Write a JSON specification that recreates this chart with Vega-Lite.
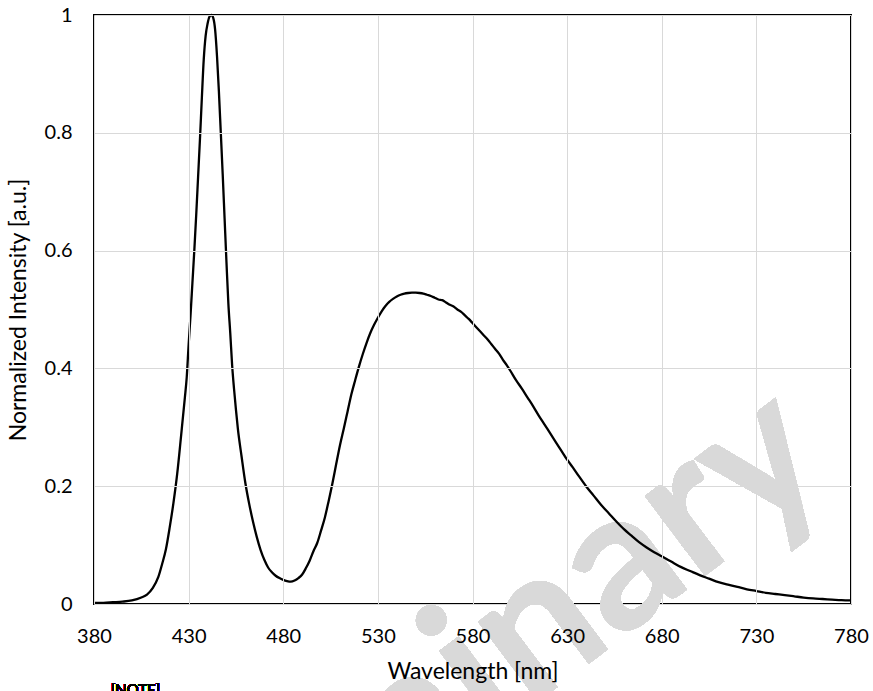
{
  "$schema": "https://vega.github.io/schema/vega-lite/v6.json",
  "width": 757,
  "height": 589,
  "autosize": {"type": "none"},
  "padding": {"left": 94, "top": 15, "right": 22, "bottom": 87},
  "background": "white",
  "config": {
    "view": {"stroke": "black", "strokeWidth": 2},
    "font": "Lato",
    "axis": {
      "grid": true,
      "gridColor": "#d9d9d9",
      "gridWidth": 1,
      "domain": false,
      "ticks": false,
      "tickSize": 0,
      "labelColor": "#000000",
      "titleColor": "#000000",
      "labelFont": "Lato",
      "titleFont": "Lato",
      "labelFontSize": 20,
      "titleFontSize": 23,
      "titleFontWeight": "normal",
      "labelFlush": false,
      "labelOverlap": false
    }
  },
  "data": {
    "values": [
      {"wavelength": 380, "intensity": 0.002},
      {"wavelength": 385, "intensity": 0.002},
      {"wavelength": 390, "intensity": 0.003},
      {"wavelength": 395, "intensity": 0.004},
      {"wavelength": 400, "intensity": 0.006},
      {"wavelength": 405, "intensity": 0.011},
      {"wavelength": 408, "intensity": 0.016},
      {"wavelength": 411, "intensity": 0.027},
      {"wavelength": 414, "intensity": 0.046},
      {"wavelength": 416, "intensity": 0.068},
      {"wavelength": 418, "intensity": 0.093},
      {"wavelength": 420, "intensity": 0.13},
      {"wavelength": 422, "intensity": 0.172},
      {"wavelength": 424, "intensity": 0.222},
      {"wavelength": 426, "intensity": 0.285},
      {"wavelength": 428, "intensity": 0.35},
      {"wavelength": 429, "intensity": 0.385},
      {"wavelength": 430, "intensity": 0.44},
      {"wavelength": 431, "intensity": 0.49},
      {"wavelength": 432, "intensity": 0.545},
      {"wavelength": 433, "intensity": 0.6},
      {"wavelength": 434, "intensity": 0.66},
      {"wavelength": 435, "intensity": 0.725},
      {"wavelength": 436, "intensity": 0.79},
      {"wavelength": 437, "intensity": 0.86},
      {"wavelength": 438, "intensity": 0.925},
      {"wavelength": 439, "intensity": 0.965},
      {"wavelength": 440, "intensity": 0.985},
      {"wavelength": 441, "intensity": 0.997},
      {"wavelength": 442, "intensity": 1.0},
      {"wavelength": 443, "intensity": 0.995},
      {"wavelength": 444, "intensity": 0.975},
      {"wavelength": 445, "intensity": 0.93},
      {"wavelength": 446, "intensity": 0.87},
      {"wavelength": 447, "intensity": 0.8},
      {"wavelength": 448, "intensity": 0.73},
      {"wavelength": 449, "intensity": 0.655},
      {"wavelength": 450, "intensity": 0.58},
      {"wavelength": 451, "intensity": 0.51},
      {"wavelength": 452, "intensity": 0.46},
      {"wavelength": 453, "intensity": 0.405},
      {"wavelength": 454, "intensity": 0.365},
      {"wavelength": 455, "intensity": 0.33},
      {"wavelength": 456, "intensity": 0.298},
      {"wavelength": 458, "intensity": 0.25},
      {"wavelength": 460, "intensity": 0.205},
      {"wavelength": 462, "intensity": 0.17},
      {"wavelength": 464, "intensity": 0.14},
      {"wavelength": 466, "intensity": 0.114},
      {"wavelength": 468, "intensity": 0.092},
      {"wavelength": 470, "intensity": 0.075},
      {"wavelength": 472, "intensity": 0.062},
      {"wavelength": 474, "intensity": 0.054},
      {"wavelength": 476, "intensity": 0.048},
      {"wavelength": 478, "intensity": 0.044},
      {"wavelength": 480, "intensity": 0.041},
      {"wavelength": 482, "intensity": 0.039},
      {"wavelength": 484, "intensity": 0.038},
      {"wavelength": 486, "intensity": 0.04},
      {"wavelength": 488, "intensity": 0.044},
      {"wavelength": 490, "intensity": 0.05},
      {"wavelength": 492, "intensity": 0.061},
      {"wavelength": 494, "intensity": 0.074},
      {"wavelength": 496, "intensity": 0.09},
      {"wavelength": 498, "intensity": 0.104},
      {"wavelength": 500, "intensity": 0.125},
      {"wavelength": 502, "intensity": 0.147},
      {"wavelength": 504, "intensity": 0.175},
      {"wavelength": 506, "intensity": 0.205},
      {"wavelength": 508, "intensity": 0.238},
      {"wavelength": 510, "intensity": 0.27},
      {"wavelength": 512, "intensity": 0.298},
      {"wavelength": 514, "intensity": 0.327},
      {"wavelength": 516, "intensity": 0.356},
      {"wavelength": 518, "intensity": 0.38},
      {"wavelength": 520, "intensity": 0.403},
      {"wavelength": 522, "intensity": 0.424},
      {"wavelength": 524, "intensity": 0.443},
      {"wavelength": 526, "intensity": 0.46},
      {"wavelength": 528, "intensity": 0.474},
      {"wavelength": 530, "intensity": 0.486},
      {"wavelength": 532, "intensity": 0.497},
      {"wavelength": 534, "intensity": 0.506},
      {"wavelength": 536, "intensity": 0.513},
      {"wavelength": 538, "intensity": 0.518},
      {"wavelength": 540, "intensity": 0.522},
      {"wavelength": 542, "intensity": 0.525},
      {"wavelength": 544, "intensity": 0.527},
      {"wavelength": 546, "intensity": 0.528},
      {"wavelength": 548, "intensity": 0.5285},
      {"wavelength": 550, "intensity": 0.5285},
      {"wavelength": 552, "intensity": 0.528},
      {"wavelength": 554, "intensity": 0.527},
      {"wavelength": 556, "intensity": 0.525},
      {"wavelength": 558, "intensity": 0.523},
      {"wavelength": 560, "intensity": 0.52},
      {"wavelength": 562, "intensity": 0.517},
      {"wavelength": 564, "intensity": 0.516},
      {"wavelength": 566, "intensity": 0.512},
      {"wavelength": 568, "intensity": 0.508},
      {"wavelength": 570, "intensity": 0.505},
      {"wavelength": 572, "intensity": 0.5},
      {"wavelength": 574, "intensity": 0.496},
      {"wavelength": 576, "intensity": 0.49},
      {"wavelength": 578, "intensity": 0.484},
      {"wavelength": 580, "intensity": 0.477},
      {"wavelength": 582, "intensity": 0.47},
      {"wavelength": 584, "intensity": 0.463},
      {"wavelength": 586, "intensity": 0.456},
      {"wavelength": 588, "intensity": 0.449},
      {"wavelength": 590, "intensity": 0.441},
      {"wavelength": 592, "intensity": 0.433},
      {"wavelength": 594, "intensity": 0.425},
      {"wavelength": 596, "intensity": 0.415},
      {"wavelength": 598, "intensity": 0.406},
      {"wavelength": 600, "intensity": 0.396},
      {"wavelength": 603, "intensity": 0.38},
      {"wavelength": 606, "intensity": 0.366},
      {"wavelength": 609, "intensity": 0.351},
      {"wavelength": 612, "intensity": 0.336},
      {"wavelength": 615, "intensity": 0.32},
      {"wavelength": 618, "intensity": 0.305},
      {"wavelength": 621, "intensity": 0.29},
      {"wavelength": 624, "intensity": 0.275},
      {"wavelength": 627, "intensity": 0.26},
      {"wavelength": 630, "intensity": 0.245},
      {"wavelength": 633, "intensity": 0.232},
      {"wavelength": 636, "intensity": 0.218},
      {"wavelength": 640, "intensity": 0.2},
      {"wavelength": 644, "intensity": 0.184},
      {"wavelength": 648, "intensity": 0.168},
      {"wavelength": 652, "intensity": 0.154},
      {"wavelength": 656, "intensity": 0.14},
      {"wavelength": 660, "intensity": 0.127},
      {"wavelength": 664, "intensity": 0.116},
      {"wavelength": 668, "intensity": 0.105},
      {"wavelength": 672, "intensity": 0.096},
      {"wavelength": 676, "intensity": 0.088},
      {"wavelength": 680, "intensity": 0.081},
      {"wavelength": 685, "intensity": 0.072},
      {"wavelength": 690, "intensity": 0.063},
      {"wavelength": 695, "intensity": 0.056},
      {"wavelength": 700, "intensity": 0.049},
      {"wavelength": 705, "intensity": 0.043},
      {"wavelength": 710, "intensity": 0.037},
      {"wavelength": 715, "intensity": 0.033},
      {"wavelength": 720, "intensity": 0.029},
      {"wavelength": 725, "intensity": 0.025},
      {"wavelength": 730, "intensity": 0.022},
      {"wavelength": 735, "intensity": 0.019},
      {"wavelength": 740, "intensity": 0.017},
      {"wavelength": 745, "intensity": 0.015},
      {"wavelength": 750, "intensity": 0.013},
      {"wavelength": 755, "intensity": 0.011},
      {"wavelength": 760, "intensity": 0.0095},
      {"wavelength": 765, "intensity": 0.0085},
      {"wavelength": 770, "intensity": 0.0075},
      {"wavelength": 775, "intensity": 0.0065},
      {"wavelength": 780, "intensity": 0.006}
    ]
  },
  "layer": [
    {
      "mark": {
        "type": "text",
        "text": "Preliminary",
        "font": "Lato",
        "fontWeight": "bold",
        "fontSize": 195,
        "angle": -37,
        "align": "right",
        "baseline": "alphabetic",
        "color": "#d9d9d9"
      },
      "encoding": {
        "x": {"datum": 772, "type": "quantitative"},
        "y": {"datum": 0.215, "type": "quantitative"}
      }
    },
    {
      "mark": {"type": "line", "color": "black", "strokeWidth": 2.3, "interpolate": "monotone"},
      "encoding": {
        "x": {
          "field": "wavelength",
          "type": "quantitative",
          "scale": {"domain": [380, 780], "nice": false, "zero": false},
          "axis": {
            "title": "Wavelength [nm]",
            "values": [380, 430, 480, 530, 580, 630, 680, 730, 780],
            "labelPadding": 32,
            "labelBaseline": "middle",
            "titleY": 67,
            "titleBaseline": "middle",
            "zindex": 2
          }
        },
        "y": {
          "field": "intensity",
          "type": "quantitative",
          "scale": {"domain": [0, 1], "nice": false},
          "axis": {
            "title": "Normalized Intensity [a.u.]",
            "values": [0, 0.2, 0.4, 0.6, 0.8, 1],
            "format": ".1~f",
            "labelPadding": 22,
            "titleX": -76,
            "titleY": 294.5,
            "titleBaseline": "middle",
            "titleAnchor": "middle",
            "zindex": 2
          }
        }
      }
    },
    {
      "mark": {
        "type": "text",
        "text": "[NOTE]",
        "font": "Lato",
        "fontSize": 15,
        "align": "left",
        "baseline": "top",
        "color": "black"
      },
      "encoding": {
        "x": {"datum": 388.8, "type": "quantitative"},
        "y": {"datum": -0.134, "type": "quantitative"}
      }
    }
  ]
}
